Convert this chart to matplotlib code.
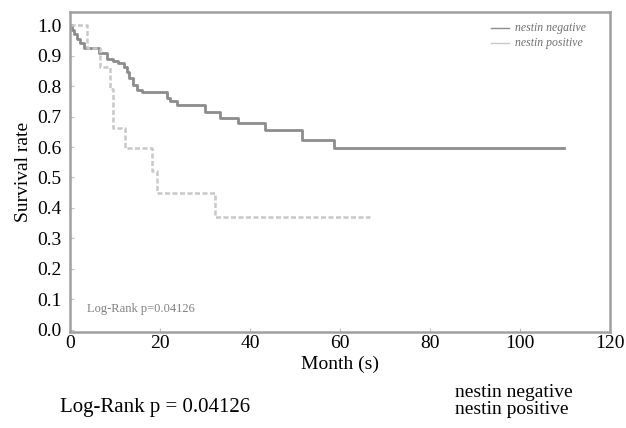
import matplotlib
matplotlib.use("Agg")
import matplotlib.pyplot as plt

# Kaplan-Meier step values
neg_time = [0, 0.5, 1.0, 1.6, 2.3, 3.2, 6.5, 8.3, 9.5, 10.7, 11.9, 12.6, 13.2,
            14.0, 15.0, 16.0, 21.5, 22.3, 23.7, 30.0, 33.4, 37.4, 43.4, 51.5,
            58.6, 109.7]
neg_surv = [1.0, 0.985, 0.97, 0.955, 0.94, 0.924, 0.907, 0.89, 0.882, 0.874,
            0.864, 0.847, 0.825, 0.803, 0.787, 0.78, 0.762, 0.75, 0.738, 0.716,
            0.694, 0.678, 0.656, 0.623, 0.596, 0.596]

pos_time = [0, 3.7, 6.7, 8.9, 9.6, 12.2, 18.2, 19.3, 32.3, 66.7]
pos_surv = [1.0, 0.924, 0.864, 0.79, 0.661, 0.596, 0.52, 0.448, 0.371, 0.371]

x_ticks = [0, 20, 40, 60, 80, 100, 120]
y_ticks = [0.0, 0.1, 0.2, 0.3, 0.4, 0.5, 0.6, 0.7, 0.8, 0.9, 1.0]

plt.rcParams['font.family'] = ['Liberation Serif', 'DejaVu Serif']

fig = plt.figure(figsize=(6.26, 4.28), dpi=100)
ax = fig.add_axes([0.1118, 0.2243, 0.8626, 0.7477])

ax.plot(neg_time, neg_surv, drawstyle='steps-post', color='#8c8c8c', lw=2)
ax.plot(pos_time, pos_surv, drawstyle='steps-post', color='#c8c8c8', lw=1.8,
        linestyle=(0, (2, 1)))

ax.set_xlim(0, 120)
ax.set_ylim(-0.007, 1.043)
ax.set_xticks(x_ticks)
ax.set_yticks(y_ticks)
ax.set_yticklabels([f"{v:.1f}" for v in y_ticks])

for s in ax.spines.values():
    s.set_color('#a0a0a0')
    s.set_linewidth(1.8)
ax.tick_params(direction='in', length=3, color='#c0c0c0', labelsize=14)
ax.tick_params(axis='y', pad=6)
ax.tick_params(axis='x', pad=2)

ax.set_xlabel("Month (s)", fontsize=14, labelpad=3)
ax.set_ylabel("Survival rate", fontsize=14, labelpad=4)

# faint text inside the plot, as in the scanned figure
ax.text(3.8, 0.07, "Log-Rank p=0.04126", fontsize=9, color='#808080',
        va='center')
ax.plot([93.5, 97.5], [0.99, 0.99], color='#8c8c8c', lw=1)
ax.plot([93.5, 97.5], [0.94, 0.94], color='#c8c8c8', lw=1)
ax.text(98.8, 0.99, "nestin negative", fontsize=8.5, style='italic',
        color='#707070', va='center')
ax.text(98.8, 0.94, "nestin positive", fontsize=8.5, style='italic',
        color='#707070', va='center')

fig.text(0.096, 0.047, "Log-Rank p = 0.04126", fontsize=15, va='center')
fig.text(0.727, 0.084, "nestin negative", fontsize=14, va='center')
fig.text(0.727, 0.043, "nestin positive", fontsize=14, va='center')

fig.savefig("out.png", dpi=100)
